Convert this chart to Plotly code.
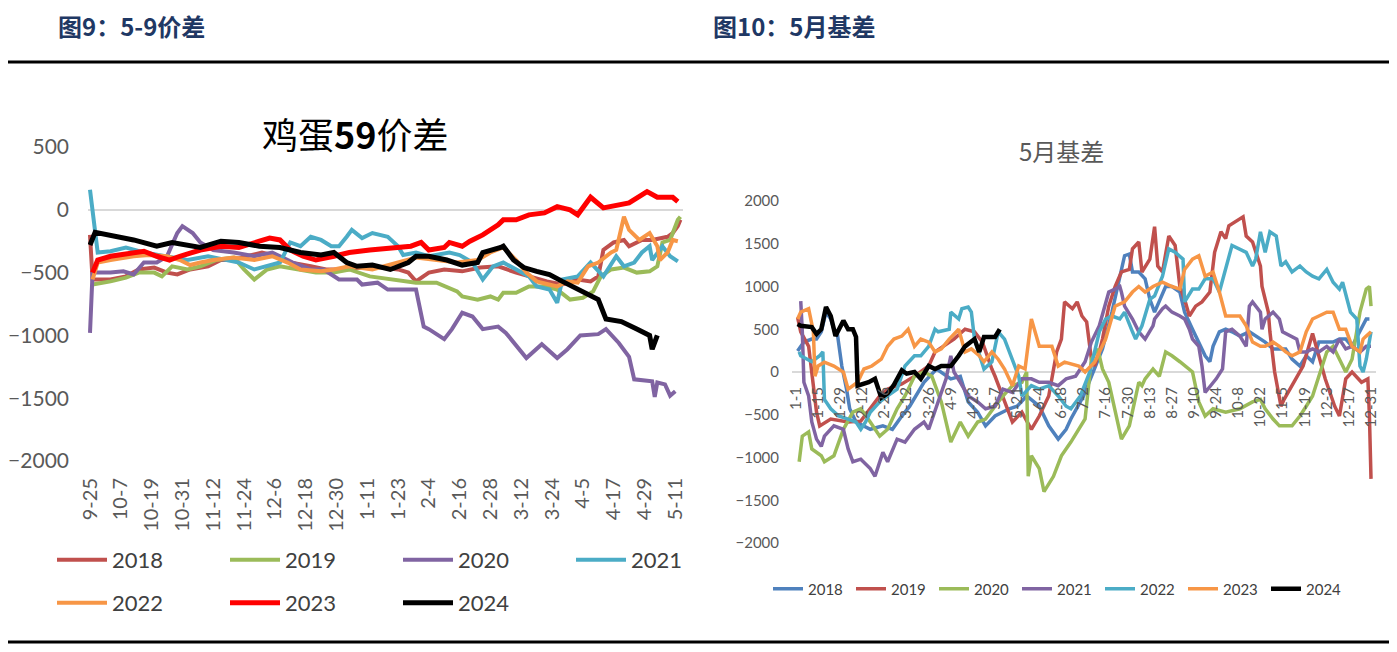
import plotly.graph_objects as go
from datetime import date

# ---------------- data: left chart (鸡蛋59价差), x = days since 9-25 ----------------
LEFT_TICKS = ["9-25", "10-7", "10-19", "10-31", "11-12", "11-24", "12-6", "12-18", "12-30",
              "1-11", "1-23", "2-4", "2-16", "2-28", "3-12", "3-24", "4-5", "4-17", "4-29", "5-11"]
LEFT_YEARS = ["2018", "2019", "2020", "2021", "2022", "2023", "2024"]
LEFT_COLORS = ["#C0504D", "#9BBB59", "#8064A2", "#4BACC6", "#F79646", "#FF0000", "#000000"]

L18_X = [0, 1, 8, 14, 19, 25, 30, 34, 39, 46, 51, 56, 61, 67, 73, 78, 86, 92, 100, 110, 120, 124, 127, 132, 138,
         145, 152, 159, 166, 171, 178, 184, 190, 195, 198, 200, 204, 208, 210, 215, 219, 225, 227, 229, 230]
L18_Y = [-200, -555, -555, -530, -475, -460, -500, -515, -475, -450, -400, -400, -370, -340, -370, -420, -450, -475,
         -475, -450, -475, -500, -570, -500, -475, -490, -460, -450, -500, -530, -570, -595, -555, -570, -530, -320,
         -260, -240, -290, -240, -240, -215, -185, -130, -80]
L19_X = [1, 8, 14, 19, 25, 28, 32, 38, 43, 49, 56, 60, 64, 69, 74, 82, 88, 95, 101, 109, 117, 127, 135, 143, 145,
         151, 156, 159, 161, 166, 171, 177, 182, 187, 192, 196, 199, 203, 208, 213, 218, 221, 223, 226, 229, 230]
L19_Y = [-595, -570, -540, -500, -500, -530, -450, -475, -450, -400, -380, -475, -555, -475, -450, -475, -500, -500,
         -475, -530, -555, -580, -580, -650, -690, -715, -690, -715, -660, -660, -610, -610, -635, -715, -700, -650,
         -530, -475, -460, -500, -490, -450, -260, -240, -80, -55]
L20_X = [0, 1, 8, 13, 17, 21, 26, 30, 34, 36, 40, 43, 48, 56, 64, 71, 79, 86, 91, 97, 104, 106, 112, 116, 122, 127,
         130, 132, 138, 141, 145, 149, 153, 159, 162, 170, 176, 182, 186, 191, 198, 201, 206, 210, 212, 219, 220,
         221, 224, 226, 228]
L20_Y = [-980, -500, -500, -490, -515, -420, -420, -370, -185, -130, -185, -260, -320, -340, -370, -340, -420, -475,
         -475, -555, -555, -595, -580, -635, -635, -635, -930, -950, -1030, -950, -820, -850, -950, -930, -980,
         -1180, -1070, -1180, -1110, -1000, -990, -950, -1060, -1170, -1350, -1365, -1490, -1375, -1390, -1480, -1445]
L21_X = [0, 3, 8, 14, 21, 30, 38, 46, 53, 58, 64, 69, 74, 78, 82, 86, 90, 94, 97, 100, 102, 106, 110, 116, 120,
         122, 127, 132, 140, 144, 149, 153, 157, 161, 166, 171, 174, 179, 182, 184, 190, 195, 200, 205, 208, 212,
         215, 218, 219, 223, 226, 229]
L21_Y = [160, -340, -330, -300, -340, -370, -400, -370, -400, -420, -475, -450, -420, -260, -290, -215, -240, -290,
         -290, -215, -160, -225, -185, -215, -290, -360, -340, -370, -340, -360, -420, -555, -450, -420, -475, -530,
         -610, -635, -740, -555, -530, -420, -530, -370, -450, -420, -340, -290, -400, -290, -370, -410]
L22_X = [1, 3, 8, 17, 23, 30, 35, 39, 43, 48, 56, 64, 71, 77, 82, 90, 95, 101, 110, 120, 127, 135, 143, 151, 156,
         161, 166, 170, 174, 182, 186, 190, 194, 198, 203, 205, 208, 210, 214, 218, 221, 222, 225, 227, 229]
L22_Y = [-555, -420, -400, -370, -360, -370, -400, -440, -420, -400, -380, -400, -370, -420, -475, -490, -475, -450,
         -475, -420, -380, -400, -420, -400, -340, -300, -400, -500, -570, -610, -570, -580, -450, -420, -340, -320,
         -55, -160, -240, -185, -290, -400, -340, -240, -250]
L23_X = [1, 3, 8, 17, 21, 26, 31, 35, 43, 51, 58, 66, 70, 74, 78, 83, 88, 95, 101, 109, 117, 125, 129, 132, 138,
         140, 145, 148, 153, 159, 161, 166, 171, 177, 182, 187, 190, 195, 200, 205, 210, 217, 221, 223, 227, 229]
L23_Y = [-500, -400, -370, -340, -330, -370, -400, -370, -320, -290, -300, -250, -225, -240, -320, -370, -400, -370,
         -340, -320, -300, -290, -260, -320, -300, -260, -290, -250, -200, -120, -80, -80, -40, -25, 25, 0, -40, 100,
         15, 40, 55, 145, 100, 100, 100, 65]
L24_X = [0, 2, 17, 26, 32, 43, 51, 58, 66, 74, 82, 90, 95, 100, 104, 110, 117, 124, 127, 132, 139, 145, 151, 153,
         160, 161, 165, 169, 174, 179, 184, 190, 198, 201, 207, 213, 218, 219, 221]
L24_Y = [-280, -180, -240, -290, -260, -300, -250, -260, -290, -300, -340, -360, -340, -420, -450, -440, -475, -420,
         -370, -370, -400, -440, -420, -340, -300, -290, -400, -460, -490, -515, -570, -635, -715, -870, -890, -950,
         -1000, -1110, -1000]

# ---------------- data: right chart (5月基差), x = day of year (1-1 = 0) ----------------
RIGHT_TICKS = ["1-1", "1-15", "1-29", "2-12", "2-26", "3-12", "3-26", "4-9", "4-23", "5-7", "5-21", "6-4", "6-18",
               "7-2", "7-16", "7-30", "8-13", "8-27", "9-10", "9-24", "10-8", "10-22", "11-5", "11-19", "12-3",
               "12-17", "12-31"]
RIGHT_YEARS = ["2018", "2019", "2020", "2021", "2022", "2023", "2024"]
RIGHT_COLORS = ["#4F81BD", "#C0504D", "#9BBB59", "#8064A2", "#4BACC6", "#F79646", "#000000"]

R18_X = [1, 5, 10, 13, 16, 19, 22, 24, 26, 29, 32, 34, 38, 47, 55, 61, 67, 72, 81, 89, 98, 104, 109, 115, 120, 126,
         135, 140, 146, 154, 160, 166, 171, 174, 182, 188, 194, 200, 208, 211, 213, 217, 221, 224, 227, 234, 238,
         243, 246, 251, 255, 259, 262, 264, 268, 272, 276, 281, 287, 291, 297, 302, 310, 314, 319, 323, 327, 331,
         336, 340, 344, 348, 352, 357, 361, 363]
R18_Y = [245, 350, 385, 385, 470, 700, 620, 500, 470, 70, -200, -430, -585, -670, -630, -670, -515, -400, -120, 35,
         -80, -50, -350, -470, -630, -515, -430, -400, -280, -400, -630, -785, -670, -550, -280, 0, 270, 700, 1360,
         1380, 1170, 1170, 1090, 850, 700, 1000, 1000, 935, 700, 500, 350, 190, 120, 300, 470, 500, 470, 420, 470,
         420, 350, 270, 270, 150, 70, 190, 120, 350, 350, 350, 385, 385, 300, 470, 620, 620]
R19_X = [1, 3, 8, 13, 15, 22, 33, 41, 53, 58, 67, 75, 84, 88, 100, 107, 113, 118, 124, 126, 137, 143, 149, 154, 160,
         163, 165, 168, 170, 175, 178, 181, 184, 187, 189, 192, 194, 198, 202, 206, 211, 213, 217, 219, 224, 227,
         229, 232, 236, 240, 243, 246, 249, 253, 257, 262, 265, 269, 272, 274, 283, 285, 289, 294, 295, 299, 300,
         303, 307, 309, 315, 321, 327, 335, 341, 344, 348, 352, 358, 362, 363, 364]
R19_Y = [640, 470, 300, -470, -630, -550, -585, -575, -280, -200, -140, -50, 70, 235, 385, 500, 470, 350, 35, -50,
         -585, -470, -670, -515, -280, 0, 235, 385, 820, 740, 820, 655, 585, 150, 70, 235, 385, 770, 1000, 1170,
         1200, 1440, 1520, 1170, 1320, 1700, 1240, 1170, 1590, 1480, 1000, 850, 655, 770, 820, 935, 1400, 1640,
         1560, 1710, 1815, 1590, 1520, 1240, 1000, 700, 470, 0, -400, -320, -120, 70, 450, -80, -400, -515, -80, 0,
         -120, -80, -515, -1250]
R20_X = [2, 4, 8, 10, 16, 18, 24, 30, 36, 41, 47, 53, 58, 64, 69, 75, 81, 86, 92, 98, 104, 109, 115, 120, 126, 131,
         137, 143, 146, 147, 149, 154, 157, 163, 168, 174, 183, 187, 191, 194, 198, 202, 206, 211, 217, 219, 221,
         226, 230, 234, 238, 243, 246, 251, 255, 259, 264, 272, 281, 289, 294, 297, 302, 306, 314, 319, 323, 327,
         331, 336, 340, 344, 348, 352, 357, 361, 363, 364]
R20_Y = [-1050, -750, -700, -900, -980, -1050, -980, -670, -470, -430, -585, -750, -670, -430, -280, -50, 0, -50,
         -350, -820, -585, -750, -585, -550, -400, -280, -160, -120, 0, -1220, -980, -1130, -1400, -1220, -980,
         -820, -550, 150, 270, 35, -120, -470, -785, -630, -120, -160, -80, 35, -50, 235, 190, 120, 70, 0, -350,
         -515, -430, -470, -430, -350, -320, -430, -550, -630, -630, -515, -400, -280, -50, 235, 300, 150, 0, 150,
         700, 970, 1000, 770]
R21_X = [3, 4, 5, 8, 10, 13, 16, 18, 24, 30, 33, 36, 41, 47, 50, 53, 55, 58, 64, 69, 75, 81, 84, 89, 95, 98, 100,
         104, 109, 115, 120, 126, 131, 137, 143, 149, 154, 160, 166, 171, 177, 183, 187, 192, 196, 198, 202, 205,
         206, 208, 213, 217, 221, 226, 227, 232, 234, 238, 243, 246, 249, 251, 255, 257, 259, 266, 270, 272, 276,
         281, 285, 287, 289, 294, 295, 297, 302, 306, 308, 313, 317, 319, 323, 327, 331, 336, 340, 344, 348, 352,
         357, 361, 364]
R21_Y = [830, 470, -120, -280, -585, -785, -870, -750, -630, -670, -900, -1050, -1020, -1130, -1220, -1050, -940,
         -1050, -785, -820, -670, -585, -670, -400, -80, 190, 0, -120, -280, -350, -430, -400, -200, -240, -80, -80,
         -120, -120, -160, -80, -50, 120, 350, 540, 820, 935, 970, 1000, 935, 770, 620, 470, 385, 540, 620, 740,
         770, 700, 655, 620, 500, 385, 300, 70, -240, -80, 35, 470, 500, 420, 300, 770, 820, 700, 500, 620, 700,
         620, 470, 420, 385, 235, 235, 270, 235, 300, 235, 385, 270, 300, 235, 300, 300]
R22_X = [2, 3, 10, 15, 17, 18, 22, 27, 33, 38, 41, 44, 47, 53, 58, 64, 69, 75, 79, 84, 88, 90, 97, 98, 103, 105,
         109, 111, 113, 118, 119, 124, 128, 132, 137, 141, 143, 149, 154, 160, 166, 171, 174, 180, 186, 192, 196,
         200, 205, 208, 213, 215, 219, 224, 227, 232, 236, 240, 245, 246, 251, 255, 259, 264, 268, 272, 276, 285,
         289, 291, 294, 297, 300, 304, 307, 310, 314, 319, 323, 327, 331, 336, 340, 344, 346, 351, 355, 357, 359,
         361, 364]
R22_Y = [235, 190, 120, 190, 235, -320, -430, -515, -550, -585, -670, -585, -470, -350, -280, -200, 70, 190, 190,
         300, 500, 470, 500, 700, 620, 740, 760, 700, 385, 70, 35, 120, 470, 385, 150, -50, -280, -160, -200, -160,
         -280, -400, -430, -280, 0, 470, 620, 655, 620, 700, 470, 385, 540, 850, 890, 1120, 1440, 1400, 1320, 820,
         970, 970, 1090, 1090, 935, 1200, 1480, 1400, 1240, 1320, 1640, 1400, 1640, 1590, 1240, 1290, 1170, 1240,
         1170, 1120, 1090, 1200, 1050, 970, 1050, 700, 620, 70, 0, 150, 470]
R23_X = [1, 3, 8, 11, 12, 14, 18, 24, 30, 33, 39, 43, 48, 54, 58, 62, 67, 71, 75, 79, 84, 88, 92, 97, 103, 107, 111,
         116, 119, 124, 128, 132, 137, 141, 145, 149, 154, 158, 162, 166, 170, 179, 183, 189, 196, 202, 208, 213,
         217, 221, 226, 232, 238, 243, 246, 251, 255, 259, 264, 268, 272, 281, 285, 289, 294, 297, 302, 306, 310,
         314, 319, 323, 327, 331, 336, 340, 344, 348, 352, 357, 359, 361, 364]
R23_Y = [620, 700, 740, 470, -50, 70, 115, 70, 0, -200, -120, 35, 70, 150, 300, 385, 420, 500, 300, 385, 350, 235,
         270, 385, 500, 235, 270, 190, 120, 235, 150, 35, -160, 70, 35, 620, 300, 300, 300, 70, 115, 70, 0, 115, 385,
         770, 820, 935, 1000, 935, 1000, 1050, 1000, 970, 1200, 1320, 1360, 1120, 1170, 935, 655, 655, 540, 350,
         300, 300, 350, 300, 235, 190, 235, 470, 620, 655, 700, 700, 500, 500, 300, 235, 385, 420, 470]
R24_X = [1, 3, 10, 13, 16, 19, 22, 25, 30, 33, 36, 38, 39, 46, 50, 54, 58, 62, 67, 70, 75, 79, 84, 88, 92, 98, 103,
         107, 113, 116, 119, 126, 129]
R24_Y = [560, 540, 525, 445, 500, 760, 655, 420, 600, 500, 500, 410, -160, -120, -80, -300, -250, -150, 20, -20, 0,
         -80, 70, 35, 70, 70, 190, 300, 385, 235, 410, 410, 500]

LEFT_SERIES = [(L18_X, L18_Y), (L19_X, L19_Y), (L20_X, L20_Y), (L21_X, L21_Y), (L22_X, L22_Y), (L23_X, L23_Y),
               (L24_X, L24_Y)]
RIGHT_SERIES = [(R18_X, R18_Y), (R19_X, R19_Y), (R20_X, R20_Y), (R21_X, R21_Y), (R22_X, R22_Y), (R23_X, R23_Y),
                (R24_X, R24_Y)]


def left_day(lbl):
    m, d = map(int, lbl.split("-"))
    yr = 2000 if m >= 9 else 2001
    return (date(yr, m, d) - date(2000, 9, 25)).days


def right_day(lbl):
    m, d = map(int, lbl.split("-"))
    return (date(2001, m, d) - date(2001, 1, 1)).days


# ---------------- layout helpers (page pixel -> paper) ----------------
# the page body has an 8px margin, so the figure is sized to fit inside it
OFF = 8
W, H = 1397 - 2 * OFF, 652 - 2 * OFF
def fx(p): return (p - OFF) / W
def fy(p): return 1 - (p - OFF) / H

GRAY = "#595959"
NUM_FONT = "Lato, 'Open Sans', sans-serif"
CJK = "'Noto Sans CJK SC', 'Noto Sans', sans-serif"

fig = go.Figure()

for i, (yr, col, (xs, ys)) in enumerate(zip(LEFT_YEARS, LEFT_COLORS, LEFT_SERIES)):
    width = 5 if yr in ("2023", "2024") else 4
    fig.add_trace(go.Scatter(x=xs, y=ys, mode="lines", name=yr, line=dict(color=col, width=width),
                             xaxis="x", yaxis="y", legend="legend" if i < 4 else "legend2",
                             hoverinfo="skip"))

for yr, col, (xs, ys) in zip(RIGHT_YEARS, RIGHT_COLORS, RIGHT_SERIES):
    width = 4.5 if yr == "2024" else 3.5
    fig.add_trace(go.Scatter(x=xs, y=ys, mode="lines", name=yr, line=dict(color=col, width=width),
                             xaxis="x2", yaxis="y2", legend="legend3", hoverinfo="skip"))

# left axis geometry: day 0 at page px 90, ~2.567 px/day
L_PX0, L_PPD = 90, 2.567
L_DOM = (88, 683)
L_RANGE = [(L_DOM[0] - L_PX0) / L_PPD, (L_DOM[1] - L_PX0) / L_PPD]
# right axis geometry: day 0 at page px 796, 1.5797 px/day
R_PX0, R_PPD = 796, 1.5797
R_DOM = (792, 1376)
R_RANGE = [(R_DOM[0] - R_PX0) / R_PPD, (R_DOM[1] - R_PX0) / R_PPD]

fig.update_layout(
    template="none",
    width=W, height=H, margin=dict(l=0, r=0, t=0, b=0, pad=0, autoexpand=False),
    paper_bgcolor="white", plot_bgcolor="rgba(0,0,0,0)",
    showlegend=True,
    xaxis=dict(domain=[fx(L_DOM[0]), fx(L_DOM[1])], range=L_RANGE, anchor="y", automargin=False,
               tickvals=[left_day(t) for t in LEFT_TICKS], ticktext=LEFT_TICKS, tickangle=-90,
               tickfont=dict(family=NUM_FONT, size=20, color=GRAY), showgrid=False, zeroline=False,
               showline=False, ticks="", ticklabelstandoff=12),
    yaxis=dict(domain=[fy(461), fy(147)], range=[-2000, 500], tickvals=[500, 0, -500, -1000, -1500, -2000],
               automargin=False,
               tickfont=dict(family=NUM_FONT, size=21, color=GRAY), showgrid=False, zeroline=True,
               zerolinecolor="#D9D9D9", zerolinewidth=2, showline=False, ticks="", ticklabelstandoff=18),
    xaxis3=dict(domain=[fx(L_DOM[0]), fx(L_DOM[1])], range=L_RANGE, overlaying="x", anchor="free",
                position=fy(211), tickvals=[0, 59, 117, 176], ticks="outside", ticklen=8, tickwidth=2,
                automargin=False,
                tickcolor="#D9D9D9", showticklabels=False, showgrid=False, zeroline=False, showline=False),
    xaxis2=dict(domain=[fx(R_DOM[0]), fx(R_DOM[1])], range=R_RANGE, anchor="free", position=fy(373),
                automargin=False,
                tickvals=[right_day(t) for t in RIGHT_TICKS], ticktext=RIGHT_TICKS, tickangle=-90,
                tickfont=dict(family=NUM_FONT, size=15, color=GRAY), showgrid=False, zeroline=False,
                showline=False, ticks="", ticklabelstandoff=10),
    yaxis2=dict(domain=[fy(543), fy(201)], range=[-2000, 2000], dtick=500, anchor="x2", automargin=False,
                tickfont=dict(family=NUM_FONT, size=15, color=GRAY), showgrid=False, zeroline=True,
                zerolinecolor="#D9D9D9", zerolinewidth=2, showline=False, ticks="", ticklabelstandoff=12),
    legend=dict(orientation="h", x=fx(52), y=fy(560), xanchor="left", yanchor="middle",
                font=dict(family=NUM_FONT, size=22, color="#404040"), entrywidth=108, itemwidth=50,
                bgcolor="rgba(0,0,0,0)", traceorder="normal"),
    legend2=dict(orientation="h", x=fx(52), y=fy(603), xanchor="left", yanchor="middle",
                 font=dict(family=NUM_FONT, size=22, color="#404040"), entrywidth=108, itemwidth=50,
                 bgcolor="rgba(0,0,0,0)", traceorder="normal"),
    legend3=dict(orientation="h", x=fx(768), y=fy(589), xanchor="left", yanchor="middle",
                 font=dict(family=NUM_FONT, size=15, color="#404040"), entrywidth=38, itemwidth=30,
                 bgcolor="rgba(0,0,0,0)", traceorder="normal"),
    shapes=[
        dict(type="line", xref="paper", yref="paper", x0=fx(0), x1=fx(1397), y0=fy(62), y1=fy(62),
             line=dict(color="black", width=3)),
        dict(type="line", xref="paper", yref="paper", x0=fx(0), x1=fx(1397), y0=fy(642), y1=fy(642),
             line=dict(color="black", width=3)),
    ],
    annotations=[
        dict(text="<b>图9：5-9价差</b>", x=fx(56), y=fy(25), xref="paper", yref="paper", xanchor="left",
             yanchor="middle", showarrow=False, font=dict(family=CJK, size=24, color="#1F3864")),
        dict(text="<b>图10：5月基差</b>", x=fx(711), y=fy(25), xref="paper", yref="paper", xanchor="left",
             yanchor="middle", showarrow=False, font=dict(family=CJK, size=24, color="#1F3864")),
        dict(text="鸡蛋<b>59</b>价差", x=fx(356), y=fy(133), xref="paper", yref="paper", xanchor="center",
             yanchor="middle", showarrow=False, font=dict(family=CJK, size=36, color="black")),
        dict(text="5月基差", x=fx(1061), y=fy(150), xref="paper", yref="paper", xanchor="center",
             yanchor="middle", showarrow=False, font=dict(family=CJK, size=24, color=GRAY)),
    ],
)

fig.write_html("out.html")
